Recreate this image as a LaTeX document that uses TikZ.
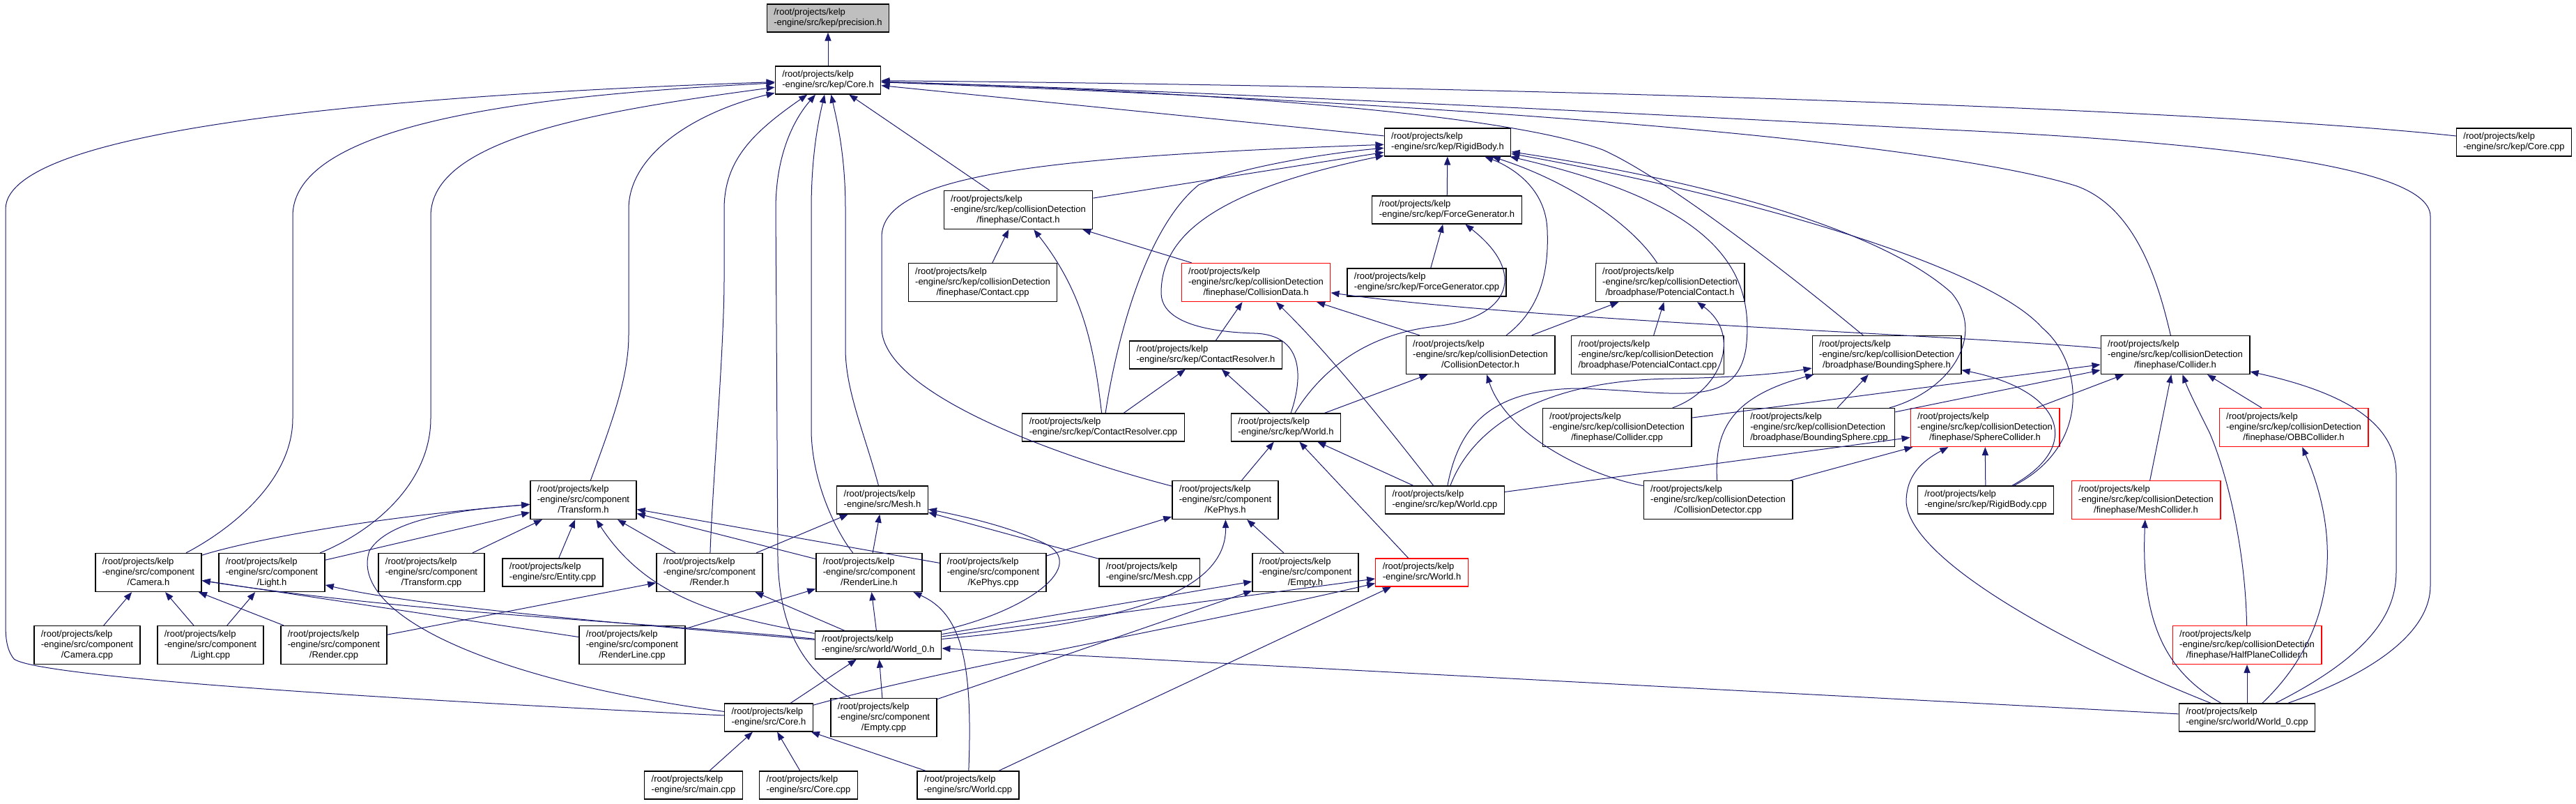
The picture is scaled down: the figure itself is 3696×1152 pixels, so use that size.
\documentclass[tikz,border=0pt]{standalone}
\usepackage{fontspec}
\setmainfont{Liberation Sans}
\usetikzlibrary{arrows.meta}
\definecolor{edgeblue}{HTML}{191970}
\definecolor{rootgray}{HTML}{BFBFBF}
\definecolor{truncred}{HTML}{FF0000}
\tikzset{
  file/.style={draw=black, line width=0.65pt, fill=white,
               inner xsep=5pt, inner ysep=2.5pt, font=\fontsize{6.5}{7.5}\selectfont},
  truncfile/.style={file, draw=truncred},
  rootfile/.style={file, fill=rootgray},
  inc/.style={draw=edgeblue, line width=0.5pt, -{Triangle[length=6pt,width=4.6pt]}},
}
% doxygen-like labels: left aligned lines, last line of three centred
\newcommand{\twoline}[2]{\begin{tabular}{@{}l@{}}#1\\#2\end{tabular}}
\newcommand{\threeline}[3]{\begin{tabular}{@{}l@{}}#1\\#2\\\multicolumn{1}{@{}c@{}}{#3}\end{tabular}}

\begin{document}
\begin{tikzpicture}[x=0.5pt, y=-0.5pt]
  \useasboundingbox (0,0) rectangle (3696,1152);

  % top rows
  \node[rootfile] (prec) at (1188,26) {\twoline{/root/projects/kelp}{-engine/src/kep/precision.h}};
  \node[file] (kcore) at (1188,115) {\twoline{/root/projects/kelp}{-engine/src/kep/Core.h}};
  \node[file] (rigid) at (2077,204) {\twoline{/root/projects/kelp}{-engine/src/kep/RigidBody.h}};
  \node[file] (kcorecpp) at (3607,204) {\twoline{/root/projects/kelp}{-engine/src/kep/Core.cpp}};
  \node[file] (contact) at (1461,301) {\threeline{/root/projects/kelp}{-engine/src/kep/collisionDetection}{/finephase/Contact.h}};
  \node[file] (forcegen) at (2076,301) {\twoline{/root/projects/kelp}{-engine/src/kep/ForceGenerator.h}};
  \node[file] (contactcpp) at (1410,405) {\threeline{/root/projects/kelp}{-engine/src/kep/collisionDetection}{/finephase/Contact.cpp}};
  \node[truncfile] (colldata) at (1802,405) {\threeline{/root/projects/kelp}{-engine/src/kep/collisionDetection}{/finephase/CollisionData.h}};
  \node[file] (forcegencpp) at (2047,405) {\twoline{/root/projects/kelp}{-engine/src/kep/ForceGenerator.cpp}};
  \node[file] (potcont) at (2396,405) {\threeline{/root/projects/kelp}{-engine/src/kep/collisionDetection}{/broadphase/PotencialContact.h}};

  % middle rows
  \node[file] (resolver) at (1730,509) {\twoline{/root/projects/kelp}{-engine/src/kep/ContactResolver.h}};
  \node[file] (colldet) at (2124,509) {\threeline{/root/projects/kelp}{-engine/src/kep/collisionDetection}{/CollisionDetector.h}};
  \node[file] (potcontcpp) at (2364,509) {\threeline{/root/projects/kelp}{-engine/src/kep/collisionDetection}{/broadphase/PotencialContact.cpp}};
  \node[file] (bsphere) at (2707,509) {\threeline{/root/projects/kelp}{-engine/src/kep/collisionDetection}{/broadphase/BoundingSphere.h}};
  \node[file] (collider) at (3121,509) {\threeline{/root/projects/kelp}{-engine/src/kep/collisionDetection}{/finephase/Collider.h}};
  \node[file] (resolvercpp) at (1583,613) {\twoline{/root/projects/kelp}{-engine/src/kep/ContactResolver.cpp}};
  \node[file] (kworld) at (1845,613) {\twoline{/root/projects/kelp}{-engine/src/kep/World.h}};
  \node[file] (collidercpp) at (2320,613) {\threeline{/root/projects/kelp}{-engine/src/kep/collisionDetection}{/finephase/Collider.cpp}};
  \node[file] (bspherecpp) at (2610,613) {\threeline{/root/projects/kelp}{-engine/src/kep/collisionDetection}{/broadphase/BoundingSphere.cpp}};
  \node[truncfile] (sphere) at (2848,613) {\threeline{/root/projects/kelp}{-engine/src/kep/collisionDetection}{/finephase/SphereCollider.h}};
  \node[truncfile] (obb) at (3291,613) {\threeline{/root/projects/kelp}{-engine/src/kep/collisionDetection}{/finephase/OBBCollider.h}};
  \node[file] (transform) at (837,717) {\threeline{/root/projects/kelp}{-engine/src/component}{/Transform.h}};
  \node[file] (mesh) at (1266,717) {\twoline{/root/projects/kelp}{-engine/src/Mesh.h}};
  \node[file] (kephys) at (1758,717) {\threeline{/root/projects/kelp}{-engine/src/component}{/KePhys.h}};
  \node[file] (kworldcpp) at (2073,717) {\twoline{/root/projects/kelp}{-engine/src/kep/World.cpp}};
  \node[file] (colldetcpp) at (2465,717) {\threeline{/root/projects/kelp}{-engine/src/kep/collisionDetection}{/CollisionDetector.cpp}};
  \node[file] (rigidcpp) at (2849,717) {\twoline{/root/projects/kelp}{-engine/src/kep/RigidBody.cpp}};
  \node[truncfile] (meshcoll) at (3079,717) {\threeline{/root/projects/kelp}{-engine/src/kep/collisionDetection}{/finephase/MeshCollider.h}};

  % bottom rows
  \node[file] (camera) at (213,821) {\threeline{/root/projects/kelp}{-engine/src/component}{/Camera.h}};
  \node[file] (light) at (390,821) {\threeline{/root/projects/kelp}{-engine/src/component}{/Light.h}};
  \node[file] (transformcpp) at (619,821) {\threeline{/root/projects/kelp}{-engine/src/component}{/Transform.cpp}};
  \node[file] (entitycpp) at (793,821) {\twoline{/root/projects/kelp}{-engine/src/Entity.cpp}};
  \node[file] (render) at (1018,821) {\threeline{/root/projects/kelp}{-engine/src/component}{/Render.h}};
  \node[file] (renderline) at (1247,821) {\threeline{/root/projects/kelp}{-engine/src/component}{/RenderLine.h}};
  \node[file] (kephyscpp) at (1425,821) {\threeline{/root/projects/kelp}{-engine/src/component}{/KePhys.cpp}};
  \node[file] (meshcpp) at (1649,821) {\twoline{/root/projects/kelp}{-engine/src/Mesh.cpp}};
  \node[file] (emptyh) at (1873,821) {\threeline{/root/projects/kelp}{-engine/src/component}{/Empty.h}};
  \node[truncfile] (world) at (2040,821) {\twoline{/root/projects/kelp}{-engine/src/World.h}};
  \node[file] (cameracpp) at (125,925) {\threeline{/root/projects/kelp}{-engine/src/component}{/Camera.cpp}};
  \node[file] (lightcpp) at (302,925) {\threeline{/root/projects/kelp}{-engine/src/component}{/Light.cpp}};
  \node[file] (rendercpp) at (479,925) {\threeline{/root/projects/kelp}{-engine/src/component}{/Render.cpp}};
  \node[file] (renderlinecpp) at (907,925) {\threeline{/root/projects/kelp}{-engine/src/component}{/RenderLine.cpp}};
  \node[file] (world0) at (1260,925) {\twoline{/root/projects/kelp}{-engine/src/world/World\_0.h}};
  \node[truncfile] (halfplane) at (3224,925) {\threeline{/root/projects/kelp}{-engine/src/kep/collisionDetection}{/finephase/HalfPlaneCollider.h}};
  \node[file] (score) at (1103,1029) {\twoline{/root/projects/kelp}{-engine/src/Core.h}};
  \node[file] (emptycpp) at (1268,1029) {\threeline{/root/projects/kelp}{-engine/src/component}{/Empty.cpp}};
  \node[file] (world0cpp) at (3224,1029) {\twoline{/root/projects/kelp}{-engine/src/world/World\_0.cpp}};
  \node[file] (maincpp) at (995,1126) {\twoline{/root/projects/kelp}{-engine/src/main.cpp}};
  \node[file] (scorecpp) at (1160,1126) {\twoline{/root/projects/kelp}{-engine/src/Core.cpp}};
  \node[file] (worldcpp) at (1389,1126) {\twoline{/root/projects/kelp}{-engine/src/World.cpp}};

  % includes of kep/Core.h
  \draw[inc] (kcore) -- (prec);
  \draw[inc] (rigid) -- (kcore);
  \draw[inc] (contact) -- (kcore);
  \draw[inc] (kcorecpp) .. controls (3200,160) and (2300,125) .. (kcore);
  \draw[inc] (world0cpp) .. controls (3420,960) and (3487,900) .. (3487,840) -- (3487,310)
    .. controls (3487,230) and (3100,200) .. (2772,185) .. controls (2300,160) and (1700,130) .. (kcore);
  \draw[inc] (collider) .. controls (3100,420) and (3070,300) .. (2980,267)
    .. controls (2850,225) and (2400,160) .. (kcore);
  \draw[inc] (bsphere) .. controls (2600,420) and (2400,260) .. (2300,215)
    .. controls (2150,160) and (1700,130) .. (kcore);
  \draw[inc] (score) .. controls (700,1010) and (60,975) .. (20,945)
    .. controls (8,930) and (8,910) .. (8,890) -- (8,300) .. controls (8,180) and (600,135) .. (kcore);
  \draw[inc] (camera) .. controls (330,760) and (420,690) .. (420,600) -- (420,310)
    .. controls (420,170) and (800,135) .. (kcore);
  \draw[inc] (light) .. controls (540,760) and (618,690) .. (618,600) -- (618,310)
    .. controls (618,200) and (850,160) .. (kcore);
  \draw[inc] (transform) .. controls (880,600) and (902,540) .. (902,480) -- (902,300)
    .. controls (902,220) and (1000,160) .. (kcore);
  \draw[inc] (render) .. controls (1022,700) and (1039,500) .. (1039,400) -- (1039,300)
    .. controls (1039,230) and (1080,190) .. (kcore);
  \draw[inc] (emptycpp) .. controls (1150,960) and (1118,900) .. (1116,800) -- (1113,300)
    .. controls (1113,220) and (1140,170) .. (kcore);
  \draw[inc] (renderline) .. controls (1205,770) and (1166,700) .. (1164,620) -- (1164,300)
    .. controls (1164,220) and (1175,170) .. (kcore);
  \draw[inc] (mesh) .. controls (1240,620) and (1213,560) .. (1213,500) -- (1213,300)
    .. controls (1213,220) and (1200,170) .. (kcore);

  % includes of RigidBody.h
  \draw[inc] (forcegen) -- (rigid);
  \draw[inc] (contact) -- (rigid);
  \draw[inc] (kephys) .. controls (1500,650) and (1265,560) .. (1265,470) -- (1265,340)
    .. controls (1265,250) and (1500,225) .. (rigid);
  \draw[inc] (resolvercpp) .. controls (1600,500) and (1640,330) .. (1720,265)
    .. controls (1780,240) and (1900,220) .. (rigid);
  \draw[inc] (kworld) .. controls (1870,540) and (1870,480) .. (1800,478)
    .. controls (1700,475) and (1666,450) .. (1666,420) .. controls (1666,330) and (1760,270) .. (rigid);
  \draw[inc] (colldet) .. controls (2215,440) and (2222,380) .. (2220,330)
    .. controls (2218,270) and (2170,240) .. (rigid);
  \draw[inc] (potcont) .. controls (2340,320) and (2250,260) .. (rigid);
  \draw[inc] (kworldcpp) .. controls (2095,600) and (2150,560) .. (2260,557)
    .. controls (2400,560) and (2490,590) .. (2505,500) .. controls (2520,380) and (2450,290) .. (rigid);
  \draw[inc] (rigidcpp) .. controls (3000,640) and (2990,520) .. (2930,470)
    .. controls (2850,380) and (2500,280) .. (rigid);
  \draw[inc] (bspherecpp) .. controls (2800,560) and (2850,480) .. (2800,420)
    .. controls (2700,330) and (2450,260) .. (rigid);

  % collision detection headers
  \draw[inc] (contactcpp) -- (contact);
  \draw[inc] (colldata) -- (contact);
  \draw[inc] (resolvercpp) .. controls (1570,500) and (1555,420) .. (contact);
  \draw[inc] (forcegencpp) -- (forcegen);
  \draw[inc] (kworld) .. controls (1890,540) and (1950,480) .. (2060,468)
    .. controls (2170,455) and (2190,390) .. (forcegen);
  \draw[inc] (resolver) -- (colldata);
  \draw[inc] (colldet) -- (colldata);
  \draw[inc] (kworldcpp) .. controls (2020,650) and (1920,520) .. (colldata);
  \draw[inc] (collider) .. controls (2800,480) and (2200,460) .. (colldata);
  \draw[inc] (potcontcpp) -- (potcont);
  \draw[inc] (colldet) -- (potcont);
  \draw[inc] (collidercpp) .. controls (2470,560) and (2500,480) .. (potcont);
  \draw[inc] (resolvercpp) -- (resolver);
  \draw[inc] (kworld) -- (resolver);
  \draw[inc] (kworld) -- (colldet);
  \draw[inc] (colldetcpp) .. controls (2270,680) and (2160,620) .. (colldet);
  \draw[inc] (bspherecpp) -- (bsphere);
  \draw[inc] (colldetcpp) .. controls (2460,620) and (2480,570) .. (bsphere);
  \draw[inc] (kworldcpp) .. controls (2110,620) and (2200,545) .. (2400,543)
    .. controls (2500,541) and (2560,535) .. (bsphere);
  \draw[inc] (rigidcpp) .. controls (2990,640) and (2960,560) .. (bsphere);
  \draw[inc] (collidercpp) -- (collider);
  \draw[inc] (bspherecpp) -- (collider);
  \draw[inc] (sphere) -- (collider);
  \draw[inc] (meshcoll) -- (collider);
  \draw[inc] (obb) -- (collider);
  \draw[inc] (halfplane) .. controls (3222,800) and (3200,690) .. (3170,620)
    .. controls (3150,580) and (3140,560) .. (collider);
  \draw[inc] (world0cpp) .. controls (3400,940) and (3438,880) .. (3438,820) -- (3438,680)
    .. controls (3438,600) and (3350,560) .. (collider);
  \draw[inc] (kworldcpp) -- (sphere);
  \draw[inc] (colldetcpp) -- (sphere);
  \draw[inc] (rigidcpp) -- (sphere);
  \draw[inc] (world0cpp) .. controls (2950,920) and (2740,800) .. (2735,720)
    .. controls (2735,680) and (2760,660) .. (sphere);
  \draw[inc] (world0cpp) .. controls (3360,900) and (3355,760) .. (obb);
  \draw[inc] (world0cpp) .. controls (3100,960) and (3072,880) .. (meshcoll);
  \draw[inc] (world0cpp) -- (halfplane);

  % World and components
  \draw[inc] (kworldcpp) -- (kworld);
  \draw[inc] (world) -- (kworld);
  \draw[inc] (kephys) -- (kworld);
  \draw[inc] (kephyscpp) -- (kephys);
  \draw[inc] (emptyh) -- (kephys);
  \draw[inc] (world0) .. controls (1580,895) and (1760,860) .. (kephys);
  \draw[inc] (cameracpp) -- (camera);
  \draw[inc] (lightcpp) -- (camera);
  \draw[inc] (lightcpp) -- (light);
  \draw[inc] (rendercpp) -- (camera);
  \draw[inc] (rendercpp) -- (render);
  \draw[inc] (renderlinecpp) -- (camera);
  \draw[inc] (renderlinecpp) -- (renderline);
  \draw[inc] (world0) .. controls (900,890) and (600,880) .. (camera);
  \draw[inc] (world0) .. controls (900,895) and (600,870) .. (light);
  \draw[inc] (transformcpp) -- (transform);
  \draw[inc] (entitycpp) -- (transform);
  \draw[inc] (camera) .. controls (340,780) and (500,745) .. (transform);
  \draw[inc] (light) -- (transform);
  \draw[inc] (score) .. controls (700,975) and (500,880) .. (530,790)
    .. controls (560,740) and (680,730) .. (transform);
  \draw[inc] (render) -- (transform);
  \draw[inc] (renderline) -- (transform);
  \draw[inc] (kephyscpp) -- (transform);
  \draw[inc] (world0) .. controls (1040,885) and (930,860) .. (transform);
  \draw[inc] (render) -- (mesh);
  \draw[inc] (renderline) -- (mesh);
  \draw[inc] (meshcpp) -- (mesh);
  \draw[inc] (world0) .. controls (1480,875) and (1560,810) .. (1500,780)
    .. controls (1450,755) and (1380,740) .. (mesh);
  \draw[inc] (world0) -- (render);
  \draw[inc] (world0) -- (renderline);
  \draw[inc] (world0) -- (world);
  \draw[inc] (world0) -- (emptyh);
  \draw[inc] (emptycpp) -- (emptyh);
  \draw[inc] (score) -- (world0);
  \draw[inc] (emptycpp) -- (world0);
  \draw[inc] (world0cpp) -- (world0);
  \draw[inc] (score) .. controls (1350,960) and (1700,900) .. (world);
  \draw[inc] (maincpp) -- (score);
  \draw[inc] (scorecpp) -- (score);
  \draw[inc] (worldcpp) -- (score);
  \draw[inc] (worldcpp) .. controls (1396,950) and (1380,880) .. (renderline);
  \draw[inc] (worldcpp) -- (world);
\end{tikzpicture}
\end{document}
